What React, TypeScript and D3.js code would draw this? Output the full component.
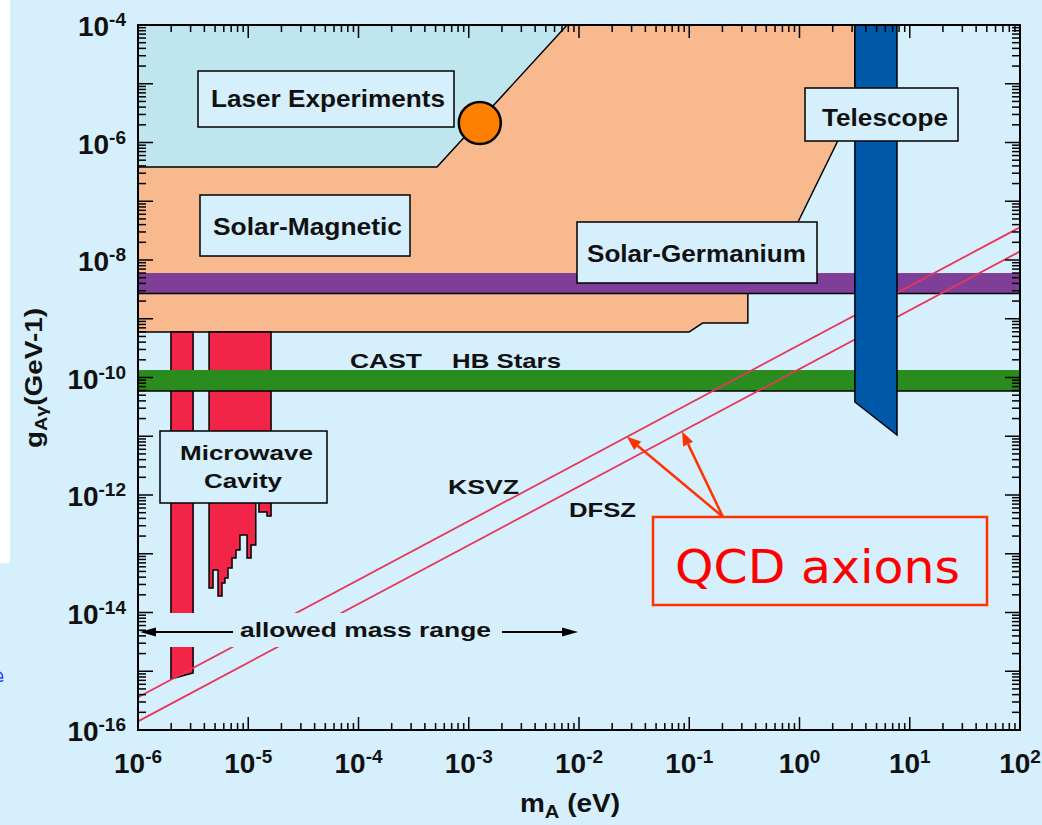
import React from "react";
import * as d3 from "d3";

// ---------------- data (mass in eV, coupling in GeV^-1) ----------------
const xDomain: [number, number] = [1e-6, 1e2];
const yDomain: [number, number] = [1e-16, 1e-4];
const xLabelExps = [-6, -5, -4, -3, -2, -1, 0, 1, 2];
const yLabelExps = [-4, -6, -8, -10, -12, -14, -16];

const laserRegion: [number, number][] = [
  [1e-6, 1e-4], [7.8e-3, 1e-4], [5.15e-4, 3.83e-7], [1e-6, 3.83e-7],
];
const solarMagneticRegion: [number, number][] = [
  [1e-6, 3.83e-7], [5.15e-4, 3.83e-7], [7.8e-3, 1e-4], [3.18, 1e-4], [3.18, 4.18e-6],
  [0.97, 4.43e-8], [0.41, 2.85e-9], [0.34, 2.85e-9], [0.34, 8.47e-10], [0.133, 8.47e-10],
  [0.1, 5.95e-10], [1e-6, 5.95e-10],
];
const solarGermaniumBand: [number, number] = [6.0e-9, 2.7e-9];
const hbStarsBand: [number, number] = [1.34e-10, 5.9e-11];
const telescopeRegion: [number, number][] = [
  [3.18, 1e-4], [7.66, 1e-4], [7.66, 1.05e-11], [3.18, 3.83e-11],
];
const cavityNarrow: [number, number][] = [
  [1.99e-6, 5.95e-10], [3.16e-6, 5.95e-10], [3.16e-6, 9.33e-16], [1.99e-6, 7.38e-16],
];
const cavityWide: [number, number][] = [
  [4.41e-6, 5.95e-10], [1.61e-5, 5.95e-10], [1.61e-5, 4.39e-13], [1.48e-5, 4.39e-13],
  [1.48e-5, 5.14e-13], [1.25e-5, 5.14e-13], [1.25e-5, 1e-12], [1.17e-5, 1e-12],
  [1.17e-5, 1.41e-13], [1.06e-5, 1.41e-13], [1.06e-5, 8.47e-14], [9.75e-6, 8.47e-14],
  [9.75e-6, 2.09e-13], [8.41e-6, 2.09e-13], [8.41e-6, 1.16e-13], [7.74e-6, 1.16e-13],
  [7.74e-6, 8.47e-14], [7.13e-6, 8.47e-14], [7.13e-6, 5.71e-14], [6.55e-6, 5.71e-14],
  [6.55e-6, 3.86e-14], [6.15e-6, 3.86e-14], [6.15e-6, 3.18e-14], [5.78e-6, 3.18e-14],
  [5.78e-6, 1.91e-14], [5.32e-6, 1.91e-14], [5.32e-6, 5.28e-14], [4.79e-6, 5.28e-14],
  [4.79e-6, 2.61e-14], [4.41e-6, 2.61e-14],
];
const ksvzLine: [number, number][] = [[1e-6, 3.6e-16], [1e2, 3.6e-8]];
const dfszLine: [number, number][] = [[1e-6, 1.4e-16], [1e2, 1.4e-8]];
const laserPoint: [number, number] = [1.26e-3, 2.15e-6];
const qcdArrowMasses = [0.0272, 0.086];

// ---------------- layout / style ----------------
const BG = "#d5effc";
const L = 138, R = 1020, T = 25, B = 730;
const FONT = "'Liberation Sans', Arial, Helvetica, sans-serif";

const x = d3.scaleLog().domain(xDomain).range([L, R]);
const y = d3.scaleLog().domain(yDomain).range([B, T]);

const poly = (pts: [number, number][]) =>
  d3.line<[number, number]>().x((d) => x(d[0])).y((d) => y(d[1]))(pts) + "Z";

const lineAt = (ln: [number, number][], m: number) => {
  const k = Math.log10(ln[1][1] / ln[0][1]) / Math.log10(ln[1][0] / ln[0][0]);
  return ln[0][1] * Math.pow(m / ln[0][0], k);
};

function arrowHead(x1: number, y1: number, x2: number, y2: number, len: number, wid: number) {
  const a = Math.atan2(y2 - y1, x2 - x1);
  const bx = x2 - len * Math.cos(a), by = y2 - len * Math.sin(a);
  const px = (-Math.sin(a) * wid) / 2, py = (Math.cos(a) * wid) / 2;
  return { d: `M${x2},${y2}L${bx + px},${by + py}L${bx - px},${by - py}Z`, bx, by };
}

function ticks(lo: number, hi: number) {
  const out: { v: number; major: boolean }[] = [];
  for (let k = lo; k < hi; k++) for (let i = 1; i <= 9; i++) out.push({ v: i * Math.pow(10, k), major: i === 1 });
  out.push({ v: Math.pow(10, hi), major: true });
  return out;
}
const xTicks = ticks(-6, 2);
const yTicks = ticks(-16, -4);

const Box = ({ x0, y0, w, h, stroke = "#000", sw = 1.5 }: any) => (
  <rect x={x0} y={y0} width={w} height={h} fill={BG} stroke={stroke} strokeWidth={sw} />
);

const Label = ({ cx, by, text, size = 23, len }: any) => (
  <text x={cx} y={by} textAnchor="middle" fontFamily={FONT} fontWeight="bold" fontSize={size}
    textLength={len} lengthAdjust="spacingAndGlyphs" fill="#111">{text}</text>
);

export default function App() {
  const ptx = x(laserPoint[0]), pty = y(laserPoint[1]);
  const bandY = (b: [number, number]) => [y(b[0]), y(b[1])];
  const [sgTop, sgBot] = bandY(solarGermaniumBand);
  const [hbTop, hbBot] = bandY(hbStarsBand);

  const qcdFrom = [723, 517];
  const qcdArrows = [
    { m: qcdArrowMasses[0], ln: ksvzLine },
    { m: qcdArrowMasses[1], ln: dfszLine },
  ].map(({ m, ln }) => {
    const tx = x(m), ty = y(lineAt(ln, m));
    return { tx, ty, ...arrowHead(qcdFrom[0], qcdFrom[1], tx, ty, 14, 11) };
  });

  const amY = 632;
  const leftHead = arrowHead(233, amY, 140, amY, 16, 9);
  const rightHead = arrowHead(502, amY, 578, amY, 16, 9);

  return (
    <svg width={1042} height={825} style={{ position: "absolute", left: 0, top: 0, display: "block" }}>
      <rect x={0} y={0} width={1042} height={825} fill={BG} />
      <rect x={0} y={0} width={10} height={563} fill="#ffffff" />
      <path d="M0,672 Q3,674 2.5,678 L0,678 M0,681 Q2,682 3,680" fill="none" stroke="#1a3cff" strokeWidth={1.5} />

      {/* regions */}
      <path d={poly(laserRegion)} fill="#bfe5ee" />
      <path d={poly(solarMagneticRegion)} fill="#f8b98e" stroke="#000" strokeWidth={1.5} strokeLinejoin="round" />
      <path d={poly(cavityNarrow)} fill="#f22548" stroke="#000" strokeWidth={1.5} />
      <path d={poly(cavityWide)} fill="#f22548" stroke="#000" strokeWidth={1.5} />

      <rect x={L} y={sgTop} width={R - L} height={sgBot - sgTop} fill="#7f3f98" />
      <line x1={L} x2={R} y1={sgBot} y2={sgBot} stroke="#000" strokeWidth={1.5} />
      <rect x={L} y={hbTop} width={R - L} height={hbBot - hbTop} fill="#2a8c1e" />
      <line x1={L} x2={R} y1={hbBot} y2={hbBot} stroke="#000" strokeWidth={1.5} />

      {/* QCD axion lines */}
      {[ksvzLine, dfszLine].map((ln, i) => (
        <line key={i} x1={x(ln[0][0])} y1={y(ln[0][1])} x2={x(ln[1][0])} y2={y(ln[1][1])}
          stroke="#e8365a" strokeWidth={1.8} />
      ))}

      <path d={poly(telescopeRegion)} fill="#0058a8" stroke="#000" strokeWidth={1.5} />

      <circle cx={ptx} cy={pty} r={21} fill="#ff7f00" stroke="#000" strokeWidth={2.5} />

      {/* blank strip behind "allowed mass range" */}
      <rect x={139} y={613} width={445} height={34} fill={BG} />

      {/* label boxes */}
      <Box x0={198} y0={71} w={256} h={56} />
      <Label cx={328} by={107} text="Laser Experiments" len={234} />
      <Box x0={200} y0={195} w={210} h={61} />
      <Label cx={307.5} by={235} text="Solar-Magnetic" len={189} />
      <Box x0={577} y0={222} w={240} h={61} />
      <Label cx={696.5} by={262} text="Solar-Germanium" len={219} />
      <Box x0={805} y0={88} w={153} h={53} />
      <Label cx={885} by={126} text="Telescope" len={126} />
      <Box x0={160} y0={431} w={167} h={72} />
      <Label cx={246.5} by={460} text="Microwave" size={21} len={133} />
      <Label cx={243} by={488} text="Cavity" size={21} len={78} />

      <Label cx={386} by={368} text="CAST" size={21} len={72} />
      <Label cx={506.5} by={368} text="HB Stars" size={21} len={109} />
      <Label cx={483.5} by={494} text="KSVZ" size={21} len={71} />
      <Label cx={602.5} by={517} text="DFSZ" size={21} len={67} />
      <Label cx={365.5} by={637} text="allowed mass range" size={21} len={251} />

      {/* allowed mass range arrows */}
      <line x1={233} y1={amY} x2={leftHead.bx} y2={amY} stroke="#000" strokeWidth={2} />
      <path d={leftHead.d} fill="#000" />
      <line x1={502} y1={amY} x2={rightHead.bx} y2={amY} stroke="#000" strokeWidth={2} />
      <path d={rightHead.d} fill="#000" />

      {/* QCD axions annotation */}
      {qcdArrows.map((a, i) => (
        <g key={i}>
          <line x1={qcdFrom[0]} y1={qcdFrom[1]} x2={a.bx} y2={a.by} stroke="#ff3300" strokeWidth={2.5} />
          <path d={a.d} fill="#ff3300" />
        </g>
      ))}
      <Box x0={653} y0={517} w={334} h={88} stroke="#ff3300" sw={2.5} />
      <text x={675} y={583} fontFamily="'DejaVu Sans', sans-serif" fontSize={47} fill="#ff0000"
        textLength={285} lengthAdjust="spacingAndGlyphs">QCD axions</text>

      {/* axes */}
      <g stroke="#000" strokeWidth={1.5}>
        {xTicks.map((t, i) => {
          const px = x(t.v), len = t.major ? 13 : 7;
          return (
            <g key={"x" + i}>
              <line x1={px} x2={px} y1={B} y2={B - len} />
              <line x1={px} x2={px} y1={T} y2={T + len} />
            </g>
          );
        })}
        {yTicks.map((t, i) => {
          const py = y(t.v), len = t.major ? 15 : 8;
          return (
            <g key={"y" + i}>
              <line x1={L} x2={L + len} y1={py} y2={py} />
              <line x1={R} x2={R - len} y1={py} y2={py} />
            </g>
          );
        })}
      </g>
      <rect x={L} y={T} width={R - L} height={B - T} fill="none" stroke="#000" strokeWidth={2} />

      {xLabelExps.map((e) => (
        <text key={"xl" + e} x={x(Math.pow(10, e))} y={773} textAnchor="middle" fontFamily={FONT}
          fontWeight="bold" fontSize={28} fill="#111">
          10<tspan dy={-10} fontSize={19}>{String(e)}</tspan>
        </text>
      ))}
      {yLabelExps.map((e) => (
        <text key={"yl" + e} x={126} y={y(Math.pow(10, e)) + 11} textAnchor="end" fontFamily={FONT}
          fontWeight="bold" fontSize={28} fill="#111">
          10<tspan dy={-10} fontSize={19}>{String(e)}</tspan>
        </text>
      ))}

      <text transform="translate(42,378) rotate(-90)" textAnchor="middle" fontFamily={FONT}
        fontWeight="bold" fontSize={24} fill="#111" textLength={140} lengthAdjust="spacingAndGlyphs">
        g<tspan dy={5} fontSize={17}>Aγ</tspan><tspan dy={-5}>(GeV-1)</tspan>
      </text>
      <text x={570} y={812} textAnchor="middle" fontFamily={FONT} fontWeight="bold" fontSize={25} fill="#111"
        textLength={100} lengthAdjust="spacingAndGlyphs">
        m<tspan dy={6} fontSize={18}>A</tspan><tspan dy={-6}> (eV)</tspan>
      </text>
    </svg>
  );
}
